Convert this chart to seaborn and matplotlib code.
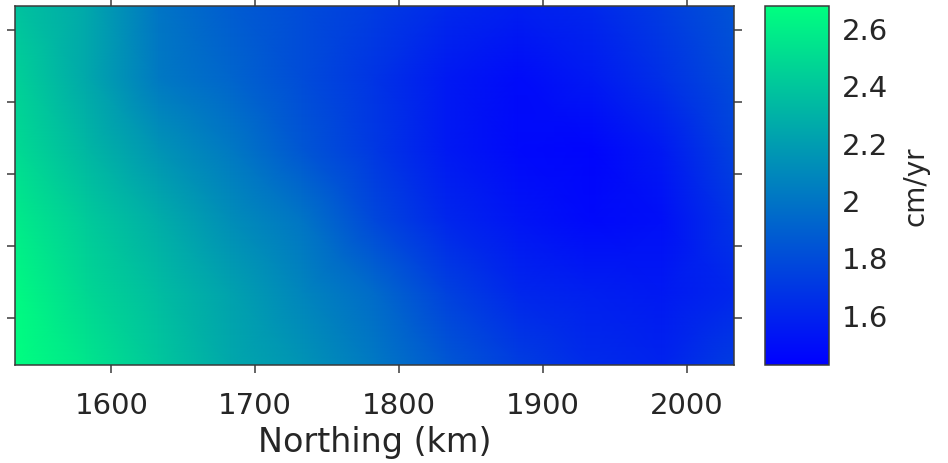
import numpy as np
import pandas as pd
import matplotlib
matplotlib.use("Agg")
import matplotlib.pyplot as plt
import seaborn as sns

# Grid coordinates (km)
northing = [1533, 1583, 1633, 1683, 1733, 1783, 1833, 1883, 1933, 1983, 2033]
easting = [617, 567, 517, 467, 417, 367]  # top row first

# Velocity (cm/yr) on the grid, one list per easting row
row_617 = [2.38, 2.25, 2.00, 1.88, 1.80, 1.72, 1.63, 1.58, 1.62, 1.72, 1.84]
row_567 = [2.45, 2.25, 2.02, 1.92, 1.80, 1.68, 1.55, 1.48, 1.55, 1.66, 1.80]
row_517 = [2.50, 2.32, 2.15, 2.02, 1.85, 1.70, 1.55, 1.47, 1.45, 1.55, 1.75]
row_467 = [2.58, 2.42, 2.28, 2.12, 2.00, 1.78, 1.62, 1.53, 1.47, 1.50, 1.68]
row_417 = [2.65, 2.48, 2.35, 2.22, 2.08, 1.95, 1.75, 1.62, 1.58, 1.55, 1.62]
row_367 = [2.677, 2.55, 2.40, 2.25, 2.15, 2.02, 1.86, 1.73, 1.64, 1.60, 1.72]

vmin, vmax = 1.425, 2.677
x_ticks_km = [1600, 1700, 1800, 1900, 2000]
y_ticks_km = [600, 550, 500, 450, 400]
cbar_ticks = [1.6, 1.8, 2.0, 2.2, 2.4, 2.6]
cbar_ticklabels = ["1.6", "1.8", "2", "2.2", "2.4", "2.6"]

velocity = pd.DataFrame(
    [row_617, row_567, row_517, row_467, row_417, row_367],
    index=easting, columns=northing,
)

sns.set_theme(style="ticks")
plt.rcParams["font.family"] = ["DejaVu Sans"]
text_color = "#262626"
edge_color = "#3a3a3a"

fig = plt.figure(figsize=(9.48, 4.64), dpi=100)
ax = fig.add_axes([15 / 948, 98 / 464, 719 / 948, 359 / 464])
cax = fig.add_axes([765 / 948, 98 / 464, 64 / 948, 359 / 464])

sns.heatmap(
    velocity, ax=ax, cbar_ax=cax, cmap="winter", vmin=vmin, vmax=vmax,
    shading="gouraud", cbar_kws={"ticks": cbar_ticks},
)

ncols, nrows = len(northing), len(easting)


def col_index(km):
    return (km - northing[0]) / (northing[-1] - northing[0]) * (ncols - 1)


def row_index(km):
    return (easting[0] - km) / (easting[0] - easting[-1]) * (nrows - 1)


ax.set_xlim(0, ncols - 1)
ax.set_ylim(nrows - 1, 0)
ax.set_xticks([col_index(v) for v in x_ticks_km])
ax.set_xticklabels([str(v) for v in x_ticks_km], rotation=0)
ax.set_yticks([row_index(v) for v in y_ticks_km])
ax.set_yticklabels([])
ax.set_ylabel("")
ax.set_xlabel("Northing (km)", fontsize=24, color=text_color, labelpad=4)

for side in ["left", "right", "top", "bottom"]:
    ax.spines[side].set_visible(True)
    ax.spines[side].set_color(edge_color)
    ax.spines[side].set_linewidth(1.1)

ax.tick_params(axis="both", which="major", direction="out", length=6,
               width=1.1, color=edge_color, top=True, right=True,
               labeltop=False, labelright=False, labelleft=False)
ax.tick_params(axis="x", labelsize=21, labelcolor=text_color, pad=13)

cbar = ax.collections[0].colorbar
cbar.outline.set_linewidth(1.1)
cbar.outline.set_edgecolor(edge_color)
cbar.set_ticks(cbar_ticks)
cbar.set_ticklabels(cbar_ticklabels)
cax.tick_params(direction="in", length=3, width=1.1, color=edge_color,
                labelsize=21, labelcolor=text_color, pad=9)
cbar.set_label("cm/yr", fontsize=20, color=text_color, labelpad=10)

fig.savefig("out.png", dpi=100)
